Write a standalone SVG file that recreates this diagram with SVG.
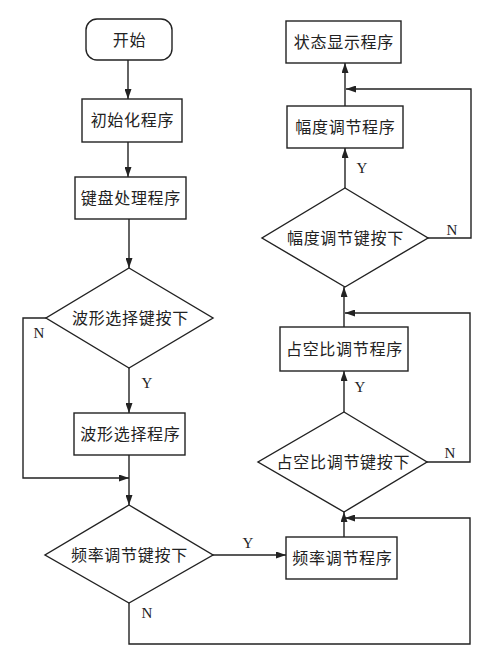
<svg xmlns="http://www.w3.org/2000/svg" width="503" height="662" viewBox="0 0 503 662">
<defs>
<style>
.s{fill:#fff;stroke:#222;stroke-width:1.4}
.t{font-family:"Noto Sans CJK SC","Noto Sans CJK JP",sans-serif;font-size:16px;letter-spacing:0.7px;fill:#222;text-anchor:middle}
.l{font-family:"Liberation Serif",serif;font-size:15px;fill:#222;text-anchor:middle}
.c{fill:none;stroke:#222;stroke-width:1.4}
</style>
<marker id="a" viewBox="0 0 10 7" refX="10" refY="3.5" markerWidth="11" markerHeight="7" markerUnits="userSpaceOnUse" orient="auto">
<path d="M0,0 L10,3.5 L0,7 z" fill="#222"/>
</marker>
</defs>
<rect width="503" height="662" fill="#fff"/>
<g id="connectors">
<path class="c" d="M128,60 V99" marker-end="url(#a)"/>
<path class="c" d="M128,142 V177" marker-end="url(#a)"/>
<path class="c" d="M129,219 V268" marker-end="url(#a)"/>
<path class="c" d="M129,368 V413" marker-end="url(#a)"/>
<path class="c" d="M129,455 V505" marker-end="url(#a)"/>
<path class="c" d="M46,318 H23 V478 H129" marker-end="url(#a)"/>
<path class="c" d="M213,555 H286" marker-end="url(#a)"/>
<path class="c" d="M344,537 V512" marker-end="url(#a)"/>
<path class="c" d="M129,603 V644 H470 V518 H345" marker-end="url(#a)"/>
<path class="c" d="M344,412 V371" marker-end="url(#a)"/>
<path class="c" d="M344,327 V287" marker-end="url(#a)"/>
<path class="c" d="M427,462 H470 V313 H345" marker-end="url(#a)"/>
<path class="c" d="M345,188 V148" marker-end="url(#a)"/>
<path class="c" d="M345,106 V63" marker-end="url(#a)"/>
<path class="c" d="M428,238 H471 V89 H346" marker-end="url(#a)"/>
<text class="l" x="39" y="338">N</text>
<text class="l" x="147" y="388">Y</text>
<text class="l" x="248" y="548">Y</text>
<text class="l" x="147" y="618">N</text>
<text class="l" x="360" y="392">Y</text>
<text class="l" x="450" y="458">N</text>
<text class="l" x="362" y="173">Y</text>
<text class="l" x="452" y="235">N</text>
</g>
<g id="start"><rect class="s" x="86" y="19" width="86" height="41" rx="11"/><text class="t" x="129.4" y="46">开始</text></g>
<g id="init"><rect class="s" x="82" y="99" width="100" height="43"/><text class="t" x="132.4" y="126">初始化程序</text></g>
<g id="keyboard"><rect class="s" x="75" y="177" width="111" height="42"/><text class="t" x="130.9" y="204">键盘处理程序</text></g>
<g id="wave-key"><polygon class="s" points="129,268 213,318 129,368 46,318"/><text class="t" x="130.4" y="324">波形选择键按下</text></g>
<g id="wave-prog"><rect class="s" x="74" y="413" width="111" height="42"/><text class="t" x="130.4" y="440">波形选择程序</text></g>
<g id="freq-key"><polygon class="s" points="129,505 213,555 129,603 45,555"/><text class="t" x="129.4" y="561">频率调节键按下</text></g>
<g id="freq-prog"><rect class="s" x="286" y="537" width="111" height="42"/><text class="t" x="342.4" y="564">频率调节程序</text></g>
<g id="duty-key"><polygon class="s" points="344,412 427,462 344,512 258,462"/><text class="t" x="343.4" y="468">占空比调节键按下</text></g>
<g id="duty-prog"><rect class="s" x="280" y="327" width="128" height="44"/><text class="t" x="344.4" y="355">占空比调节程序</text></g>
<g id="amp-key"><polygon class="s" points="345,188 428,238 345,287 262,238"/><text class="t" x="345.4" y="244">幅度调节键按下</text></g>
<g id="amp-prog"><rect class="s" x="287" y="106" width="116" height="42"/><text class="t" x="345.4" y="133">幅度调节程序</text></g>
<g id="display"><rect class="s" x="286" y="21" width="115" height="42"/><text class="t" x="343.9" y="48">状态显示程序</text></g>
</svg>
